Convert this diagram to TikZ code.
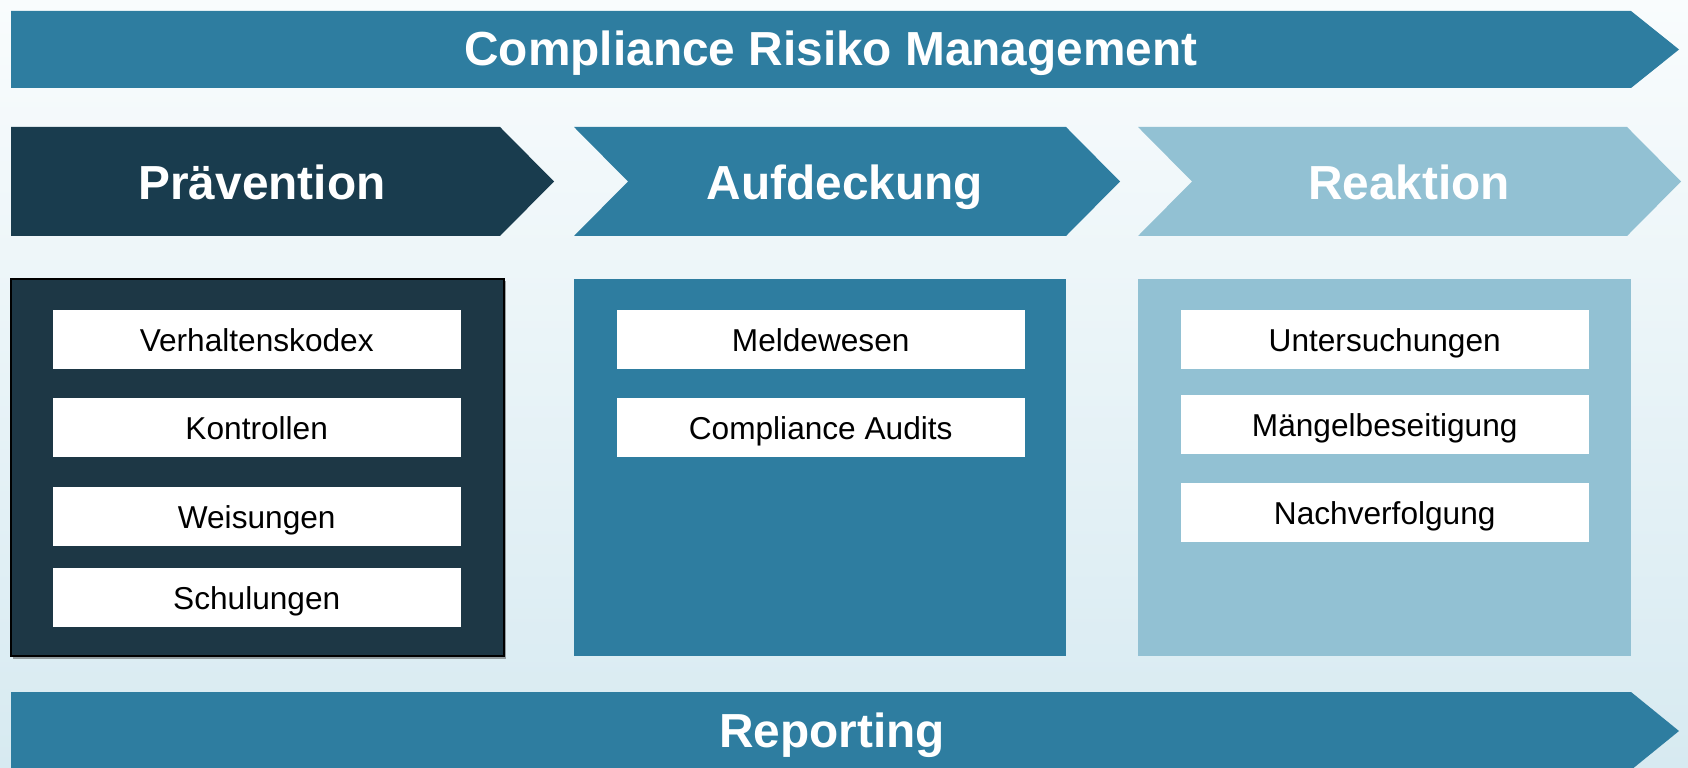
\documentclass[tikz,border=0pt]{standalone}
\usepackage{fontspec}
\setmainfont{Liberation Sans}
\usetikzlibrary{calc}
\definecolor{crmblue}{RGB}{46,125,160}
\definecolor{crmdark}{RGB}{25,60,78}
\definecolor{crmbox}{RGB}{29,55,69}
\definecolor{crmlight}{RGB}{146,193,211}
\definecolor{bgtop}{RGB}{249,252,253}
\definecolor{bgbottom}{RGB}{215,234,241}
\tikzset{
  headtext/.style={text=white,font=\fontsize{13.6}{16}\selectfont\bfseries,text height=.72em,text depth=0pt},
  itembox/.style={fill=white,anchor=north west,minimum width=40.8mm,minimum height=5.9mm,inner sep=0pt,font=\fontsize{9}{11}\selectfont,text height=.72em,text depth=0pt},
}

\begin{document}
\begin{tikzpicture}[x=0.1mm,y=-0.1mm]
      \clip (0,0) rectangle (1688,768);
      \shade[top color=bgtop,bottom color=bgbottom] (0,0) rectangle (1688,768);
      \begin{scope}
        \fill[crmblue](11,11)--(1631,11)--(1679,49.5)--(1631,88)--(11,88)--cycle;
        \node[headtext](title) at (831,52.5) {Compliance Risiko Management};
      \end{scope}
      \begin{scope}
        \fill[crmdark](11,127)--(500,127)--(554,181.5)--(500,236)--(11,236)--cycle;
        \fill[crmblue](574,127)--(1066,127)--(1120,181.5)--(1066,236)--(574,236)--(628,181.5)--cycle;
        \fill[crmlight](1138,127)--(1627,127)--(1681,181.5)--(1627,236)--(1138,236)--(1192,181.5)--cycle;
        \node[headtext](praev) at (262,186.5) {Prävention};
        \node[headtext](aufd) at (845,186.5) {Aufdeckung};
        \node[headtext](reakt) at (1409,186.5) {Reaktion};
      \end{scope}
      \begin{scope}
        \fill[black!70,opacity=.5](13,281) rectangle (506,659);
        \filldraw[fill=crmbox,draw=black,line width=0.12mm](11,279) rectangle (504,656);
        \fill[crmblue](574,279) rectangle (1066,656);
        \fill[crmlight](1138,279) rectangle (1631,656);
        \node[itembox](vk) at (52,309) {Verhaltenskodex};
        \node[itembox](kontr) at (52,397) {Kontrollen};
        \node[itembox](weis) at (52,486) {Weisungen};
        \node[itembox](schul) at (52,567) {Schulungen};
        \node[itembox](meld) at (616,309) {Meldewesen};
        \node[itembox](audits) at (616,397) {Compliance Audits};
        \node[itembox](unters) at (1180,309) {Untersuchungen};
        \node[itembox](maengel) at (1180,394) {Mängelbeseitigung};
        \node[itembox](nachv) at (1180,482) {Nachverfolgung};
      \end{scope}
      \begin{scope}
        \fill[crmblue](11,692)--(1631,692)--(1679,731)--(1631,770)--(11,770)--cycle;
        \node[headtext](reporting) at (832,735) {Reporting};
      \end{scope}
    \end{tikzpicture}
\end{document}
